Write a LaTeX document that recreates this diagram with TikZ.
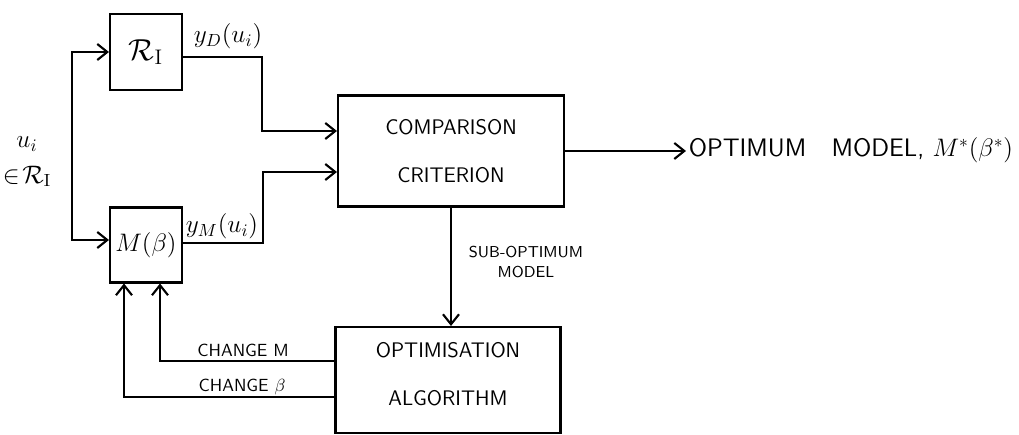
\documentclass[tikz,border=0pt]{standalone}
\usetikzlibrary{arrows.meta}

\begin{document}
\begin{tikzpicture}[x=0.02cm, y=-0.02cm, line width=1.2pt, >={Straight Barb[length=2mm, width=3.2mm]},
	blk/.style={draw, inner sep=0pt, align=center, font=\sffamily\large},
	lbl/.style={inner sep=1pt, align=center, font=\sffamily}]
	\useasboundingbox (0, 0) rectangle (1019, 435);
	% Blocks:
	\node[blk, minimum width=1.44cm, minimum height=1.52cm, font=\LARGE](RI) at (146, 52){$\mathcal{R}_{\mathrm{I}}$};
	\node[blk, minimum width=1.44cm, minimum height=1.5cm, font=\Large](MB) at (146, 245){$M(\beta)$};
	\node[blk, minimum width=4.52cm, minimum height=2.22cm](comp) at (451, 151){COMPARISON\\[13pt]CRITERION};
	\node[blk, minimum width=4.5cm, minimum height=2.12cm](opt) at (448, 380){OPTIMISATION\\[13pt]ALGORITHM\\[-7pt]};
	% Labels:
	\node[lbl, font=\Large](ui) at (27, 162){$u_i$\\[2pt]$\in\!\mathcal{R}_{\mathrm{I}}$};
	\node[lbl, font=\Large](yD) at (228, 36){$y_D(u_i)$};
	\node[lbl, font=\Large](yM) at (222, 226){$y_M(u_i)$};
	\node[lbl, font=\sffamily\Large, anchor=west](out) at (686, 150){OPTIMUM\quad MODEL, $M^{*}(\beta^{*})$};
	\node[lbl, font=\sffamily\small](sub) at (526, 262){SUB-OPTIMUM\\MODEL};
	\node[lbl](chMl) at (243, 350){CHANGE M};
	\node[lbl](chBl) at (242, 387){CHANGE $\beta$};
	% Bends:
	\coordinate (split) at (72, 150);
	\coordinate (bendD) at (262, 131);
	\coordinate (bendM) at (263, 172);
	\coordinate (chM) at (160, 361);
	\coordinate (chB) at (124, 397);
	% Wires:
	\draw[->] (split) |- (RI.west);
	\draw[->] (split) |- ([yshift=0.1cm]MB.west);
	\draw[->] ([yshift=-0.1cm]RI.east) -| (bendD) -- (bendD -| comp.west);
	\draw[->] ([yshift=0.04cm]MB.east) -| (bendM) -- (bendM -| comp.west);
	\draw[->] (comp.east) -- (comp.east -| out.west);
	\draw[->] (comp.south) -- (comp.south |- opt.north);
	\draw[->] (opt.west |- chM) -| (chM |- MB.south);
	\draw[->] (opt.west |- chB) -| (chB |- MB.south);
\end{tikzpicture}
\end{document}
